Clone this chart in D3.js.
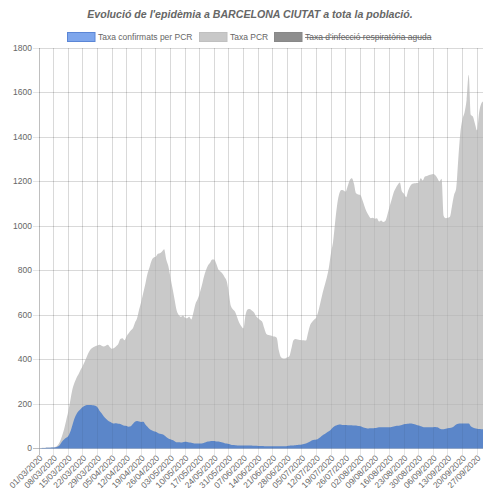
<!DOCTYPE html>
<html><head><meta charset="utf-8">
<script src="https://cdn.jsdelivr.net/npm/d3@7/dist/d3.min.js"></script>
<style>
html,body{margin:0;padding:0;background:#fff;}
svg{display:block;font-family:"Liberation Sans",Arial,Helvetica,sans-serif;}
</style></head><body>
<svg id="c" width="483" height="488"></svg>
<script>
// ---- data ----
const title = "Evolució de l'epidèmia a BARCELONA CIUTAT a tota la població.";
const seriesNames = ["Taxa confirmats per PCR", "Taxa PCR", "Taxa d'infecció respiratòria aguda"];
const startDate = "01/03/2020";
const xTickLabels = ["01/03/2020","08/03/2020","15/03/2020","22/03/2020","29/03/2020","05/04/2020","12/04/2020","19/04/2020","26/04/2020","03/05/2020","10/05/2020","17/05/2020","24/05/2020","31/05/2020","07/06/2020","14/06/2020","21/06/2020","28/06/2020","05/07/2020","12/07/2020","19/07/2020","26/07/2020","02/08/2020","09/08/2020","16/08/2020","23/08/2020","30/08/2020","06/09/2020","13/09/2020","20/09/2020","27/09/2020"];
const yTicks = [0,200,400,600,800,1000,1200,1400,1600,1800];

const taxaPCR = [2,2,3,3,4,4,5,5,8,15,30,55,85,125,165,215,265,295,318,335,355,372,392,415,435,448,455,460,463,466,
462,458,462,466,455,448,452,460,470,492,496,487,505,518,530,540,565,585,625,660,700,740,785,815,845,858,862,875,878,885,
895,850,820,770,720,670,620,600,592,598,588,585,592,580,610,650,670,697,730,770,800,822,835,850,850,830,805,795,785,770,
752,700,640,625,615,590,565,550,540,600,625,627,620,612,595,585,578,570,540,515,510,508,505,503,497,440,410,405,405,410,
415,450,487,492,490,488,487,486,485,520,555,570,580,590,620,660,700,735,770,815,880,930,1020,1100,1147,1162,1160,1155,1180,1207,
1215,1190,1147,1142,1140,1118,1090,1065,1048,1035,1037,1033,1035,1020,1025,1018,1022,1050,1085,1117,1150,1170,1185,1195,1155,1145,1130,1160,1180,1190,
1192,1193,1196,1215,1205,1222,1225,1229,1232,1234,1228,1215,1200,1212,1045,1035,1037,1042,1090,1140,1170,1300,1420,1480,1510,1567,1680,1500,1492,1460,
1430,1510,1550,1560,1565];

const taxaConfirmats = [1,1,2,2,3,3,4,5,6,9,16,30,40,48,55,75,105,135,155,168,178,186,192,195,195,196,194,192,185,170,
158,145,135,126,120,115,112,113,111,110,106,102,101,98,100,110,120,124,121,119,120,108,98,88,82,78,75,70,66,64,
60,52,45,42,38,33,28,28,27,28,30,29,27,26,24,23,22,22,23,25,28,31,33,34,34,32,31,29,27,24,
22,20,17,16,15,14,13,13,14,14,14,14,13,12,12,11,11,11,10,10,10,10,10,10,10,10,10,10,10,11,
12,13,14,15,16,17,18,20,23,27,32,37,39,40,45,52,60,65,72,77,85,95,102,106,108,107,106,106,105,105,
104,103,103,101,100,97,93,91,90,91,91,92,93,95,95,95,95,96,96,97,99,101,102,103,106,109,110,111,112,111,
109,106,103,100,97,96,95,95,95,96,97,95,90,86,87,89,91,92,94,100,108,111,112,112,112,112,112,100,94,91,
89,88,87,86,86];

const taxaIRA = []; // hidden dataset (struck through in legend)

(function () {
const svg = d3.select("#c");
const parse = d3.timeParse("%d/%m/%Y");
const d0 = parse(startDate);
const dates = taxaPCR.map((_, i) => d3.timeDay.offset(d0, i));
const rowsPCR = taxaPCR.map((v, i) => ({d: dates[i], v}));
const rowsConf = taxaConfirmats.map((v, i) => ({d: dates[i], v}));

const pLeft = 39, pRight = 483.3, pTop = 48, pBottom = 448.5;
const x = d3.scaleTime().domain([d0, d3.timeDay.offset(d0, 213)]).range([pLeft, pRight]);
const y = d3.scaleLinear().domain([0, 1800]).range([pBottom, pTop]);
const tickDates = xTickLabels.map(parse);
const textCol = "#666";
const fs = 8.5;

const grid = svg.append("g");
grid.selectAll("line.h").data(yTicks).join("line")
  .attr("x1", pLeft - 6).attr("x2", 483).attr("y1", d => y(d)).attr("y2", d => y(d))
  .attr("stroke", d => d === 0 ? "rgba(0,0,0,0.25)" : "rgba(0,0,0,0.1)").attr("stroke-width", 1)
  .attr("shape-rendering", "crispEdges");
grid.selectAll("line.v").data(tickDates).join("line")
  .attr("x1", d => x(d)).attr("x2", d => x(d)).attr("y1", pTop).attr("y2", pBottom + 6)
  .attr("stroke", (d, i) => i === 0 ? "rgba(0,0,0,0.25)" : "rgba(0,0,0,0.1)").attr("stroke-width", 1)
  .attr("shape-rendering", "crispEdges");

const area = d3.area().x(d => x(d.d)).y0(y(0)).y1(d => y(d.v)).curve(d3.curveMonotoneX);
svg.append("path").datum(rowsPCR).attr("d", area).attr("fill", "#c9c9c9");
svg.append("path").datum(rowsConf).attr("d", area).attr("fill", "#5b86c9");

const grid2 = svg.append("g");
grid2.selectAll("line.v").data(tickDates.slice(1)).join("line")
  .attr("x1", d => x(d)).attr("x2", d => x(d)).attr("y1", pTop).attr("y2", pBottom)
  .attr("stroke", "rgba(0,0,0,0.05)").attr("shape-rendering", "crispEdges");
grid2.selectAll("line.h").data(yTicks.slice(1)).join("line")
  .attr("x1", pLeft).attr("x2", 483).attr("y1", d => y(d)).attr("y2", d => y(d))
  .attr("stroke", "rgba(0,0,0,0.05)").attr("shape-rendering", "crispEdges");

svg.append("g").selectAll("text").data(yTicks).join("text")
  .attr("x", pLeft - 7).attr("y", d => y(d)).attr("dy", "0.35em")
  .attr("text-anchor", "end").attr("font-size", fs).attr("fill", textCol).text(d => d);

svg.append("g").selectAll("text").data(tickDates).join("text")
  .attr("transform", d => `translate(${x(d) + 2},${pBottom + 8}) rotate(-45)`)
  .attr("text-anchor", "end").attr("dy", "0.35em")
  .attr("font-size", fs).attr("fill", textCol).text((d, i) => xTickLabels[i]);

svg.append("text").attr("x", 250).attr("y", 14).attr("dy", "0.35em")
  .attr("text-anchor", "middle").attr("font-size", 10.6).attr("font-weight", "bold")
  .attr("font-style", "italic").attr("fill", textCol).text(title);

const legendItems = [
  {name: seriesNames[0], bx: 67, fill: "#7ea6ec", stroke: "#5b86d6", hidden: false},
  {name: seriesNames[1], bx: 199, fill: "#c8c8c8", stroke: "#c0c0c0", hidden: false},
  {name: seriesNames[2], bx: 274, fill: "#8e8e8e", stroke: "#888", hidden: true}
];
const lg = svg.append("g");
legendItems.forEach(it => {
  lg.append("rect").attr("x", it.bx + 0.5).attr("y", 32.5).attr("width", 27.5).attr("height", 9)
    .attr("fill", it.fill).attr("stroke", it.stroke).attr("stroke-width", 1);
  const t = lg.append("text").attr("x", it.bx + 31).attr("y", 37).attr("dy", "0.35em")
    .attr("font-size", fs).attr("fill", textCol).text(it.name);
  if (it.hidden) {
    const w = t.node().getComputedTextLength();
    lg.append("line").attr("x1", it.bx + 31).attr("x2", it.bx + 31 + w)
      .attr("y1", 37.5).attr("y2", 37.5).attr("stroke", textCol).attr("stroke-width", 0.8);
  }
});
})();
</script>
</body></html>
